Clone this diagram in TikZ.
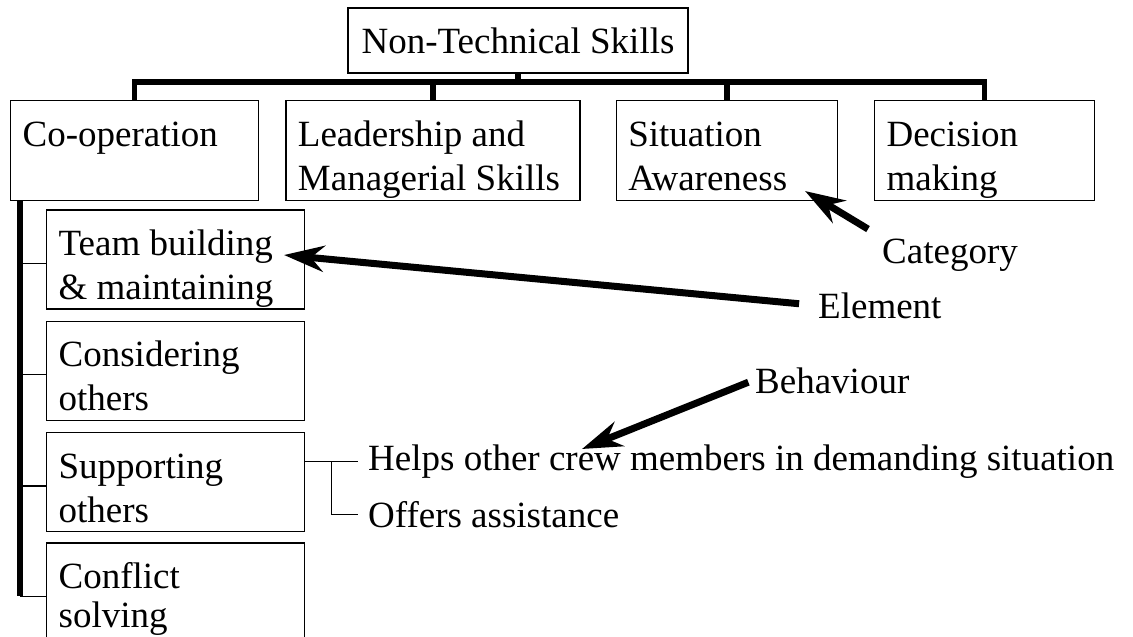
\documentclass[tikz,border=0pt]{standalone}
\usepackage{fontspec}
\setmainfont{Liberation Serif}
\usetikzlibrary{positioning,arrows.meta,calc}

\tikzset{
    head/.style={draw, line width=1.3pt, minimum width=340pt, minimum height=65pt, inner sep=0pt},
    cell/.style={draw, line width=1.3pt, align=flush left, inner xsep=12pt, inner ysep=0pt,
        text height=45.5pt, text depth=54.5pt},
    elem/.style={cell, text width=234pt, text depth=53.5pt},
    bus/.style={line width=5.5pt},
    twig/.style={line width=1.3pt},
    tag/.style={inner sep=2pt},
    pointer/.style={line width=7pt, -{Stealth[length=40pt,width=26pt,inset=13pt]}}
}

\begin{document}
\begin{tikzpicture}[
        x=1pt, y=1pt,
        font=\fontsize{37pt}{44pt}\selectfont
        ]
        \useasboundingbox (0,0) rectangle (1133,-637);

        \node (nts) [head] at (518,-40.5) {Non-Technical Skills};

        % categories
        \node (coop) [cell, text width=224pt, anchor=north west] at (10,-100) {Co-operation};
        \node (lms) [cell, text width=270pt, right=26pt of coop] {Leadership and\\Managerial Skills};
        \node (sa) [cell, text width=197pt, right=35pt of lms] {Situation\\Awareness};
        \node (dm) [cell, text width=196pt, right=36pt of sa] {Decision\\making};

        % elements of co-operation
        \node (tbm) [elem, below right=8pt and 36pt of coop.south west] {Team building\\\& maintaining};
        \node (cso) [elem, below=11pt of tbm] {Considering\\others};
        \node (sup) [elem, below=11pt of cso] {Supporting\\others};
        \node (csv) [elem, text depth=70pt, below=10pt of sup,
            font=\fontsize{37pt}{39pt}\selectfont] {Conflict\\solving};

        % behaviours
        \node (helps) [tag, anchor=base west, inner xsep=10pt] at (358,-470) {Helps other crew members in demanding situation};
        \node (offers) [tag, anchor=base west, inner xsep=10pt] at (358,-527) {Offers assistance};

        % legend labels
        \node (category) [tag, anchor=base west] at (880,-263) {Category};
        \node (element) [tag, anchor=base west] at (816,-318) {Element};
        \node (behaviour) [tag, anchor=base west] at (753,-393) {Behaviour};

        % tree lines
        \draw[bus] (nts.south) -- ++(0,-9);
        \draw[bus] (coop.north) -- ++(0,18) -| (dm.north);
        \draw[bus] (lms.north) -- ++(0,18);
        \draw[bus] (sa.north) -- ++(0,18);

        \coordinate (spine) at ([xshift=10pt]coop.south west);
        \foreach \e in {tbm,cso,sup,csv} {
            \coordinate (\e-tick) at ([yshift=-54pt]\e.north west);
            \draw[twig] (spine |- \e-tick) -- (\e-tick);
        }
        \draw[bus] (spine) -- (spine |- csv-tick);

        \coordinate (fork) at ($(sup.east |- helps.west)+(26pt,0)$);
        \draw[twig] (sup.east |- helps.west) -- (helps.west);
        \draw[twig] (fork) |- (offers.west);

        % pointers to the levels
        \coordinate (catTip) at (805,-191);
        \coordinate (elemTip) at (284,-255);
        \coordinate (behTip) at (582,-449);
        \draw[pointer, shorten <=14pt] (category.north west) -- (catTip);
        \draw[pointer, shorten <=17pt] (element.west) -- (elemTip);
        \draw[pointer, shorten <=5pt] (behaviour.west) -- (behTip);
    \end{tikzpicture}
\end{document}
